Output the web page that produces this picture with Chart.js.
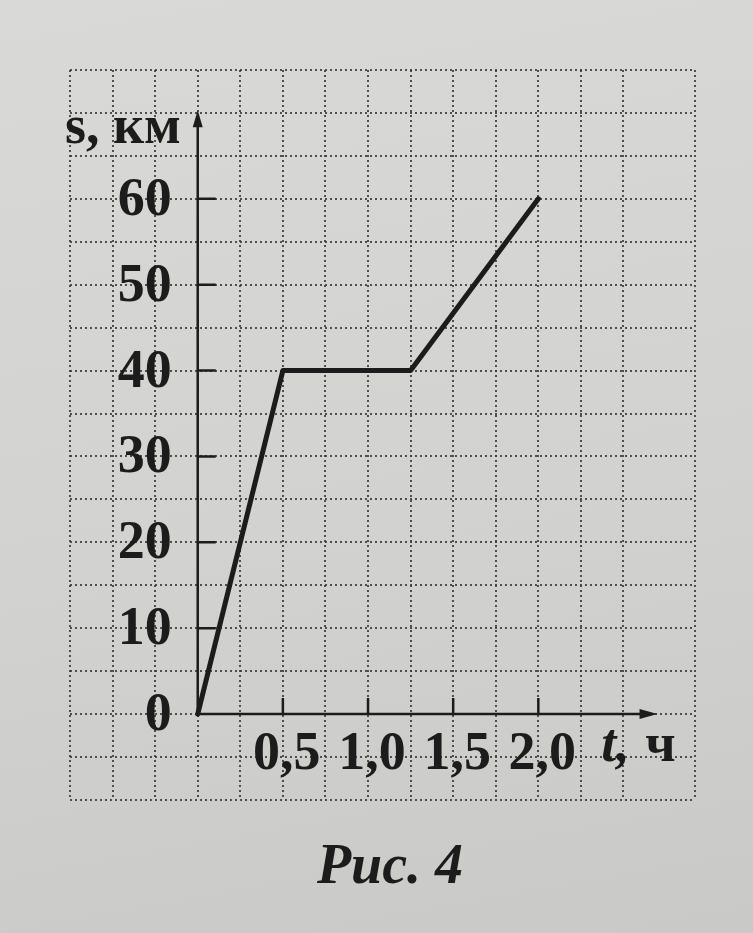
<!DOCTYPE html>
<html>
<head>
<meta charset="utf-8">
<title>Рис. 4</title>
<script src="https://cdn.jsdelivr.net/npm/chart.js@4.4.1/dist/chart.umd.min.js"></script>
<style>
  html, body {
    margin: 0;
    padding: 0;
    background: linear-gradient(170deg, #d9d9d7 0%, #d2d2d0 55%, #c9c9c7 100%);
  }
  #wrap {
    width: 753px;
    height: 933px;
  }
</style>
</head>
<body>
<div id="wrap">
  <canvas id="chart" width="753" height="933"></canvas>
</div>
<script>
// t, ч  and  s, км
const times = [0, 0.5, 1.25, 2.0];
const distances = [0, 40, 40, 60];

const xTickValues = [0.5, 1.0, 1.5, 2.0];
const xTickLabels = ["0,5", "1,0", "1,5", "2,0"];
const yTickValues = [0, 10, 20, 30, 40, 50, 60];
const yTickLabels = ["0", "10", "20", "30", "40", "50", "60"];

const xAxisTitle = "ч";
const yAxisTitle = "s, км";
const caption = "Рис. 4";

const ink = "#1c1c1c";
const serif = "'Liberation Serif', 'DejaVu Serif', serif";

const axesPlugin = {
  id: "axes",
  afterDatasetsDraw(chart) {
    const ctx = chart.ctx;
    const xs = chart.scales.x;
    const ys = chart.scales.y;
    const x0 = xs.getPixelForValue(0);
    const y0 = ys.getPixelForValue(0);

    ctx.save();
    ctx.strokeStyle = ink;
    ctx.fillStyle = ink;
    ctx.lineWidth = 2.5;

    // axes
    const yTop = ys.getPixelForValue(70.3);
    const xEnd = xs.getPixelForValue(2.7);
    ctx.beginPath();
    ctx.moveTo(x0, y0);
    ctx.lineTo(x0, yTop + 10);
    ctx.moveTo(x0, y0);
    ctx.lineTo(xEnd - 12, y0);
    ctx.stroke();

    // arrow heads
    ctx.beginPath();
    ctx.moveTo(x0, yTop);
    ctx.lineTo(x0 - 5, yTop + 17);
    ctx.lineTo(x0 + 5, yTop + 17);
    ctx.closePath();
    ctx.fill();
    ctx.beginPath();
    ctx.moveTo(xEnd, y0);
    ctx.lineTo(xEnd - 18, y0 - 5);
    ctx.lineTo(xEnd - 18, y0 + 5);
    ctx.closePath();
    ctx.fill();

    // tick marks
    ctx.lineWidth = 2.5;
    ctx.beginPath();
    yTickValues.forEach(v => {
      if (v === 0) return;
      const py = ys.getPixelForValue(v);
      ctx.moveTo(x0, py);
      ctx.lineTo(x0 + 18, py);
    });
    xTickValues.forEach(v => {
      const px = xs.getPixelForValue(v);
      ctx.moveTo(px, y0);
      ctx.lineTo(px, y0 - 16);
    });
    ctx.stroke();

    // tick labels
    ctx.font = "bold 54px " + serif;
    ctx.textAlign = "right";
    ctx.textBaseline = "middle";
    yTickValues.forEach((v, i) => {
      ctx.fillText(yTickLabels[i], x0 - 26, ys.getPixelForValue(v) + 2);
    });
    ctx.textAlign = "center";
    xTickValues.forEach((v, i) => {
      ctx.fillText(xTickLabels[i], xs.getPixelForValue(v) + 4, y0 + 41);
    });

    // axis titles
    ctx.textAlign = "left";
    ctx.textBaseline = "alphabetic";
    ctx.font = "italic bold 54px " + serif;
    const tx = xs.getPixelForValue(2.37);
    ctx.fillText("t,", tx, y0 + 47);
    ctx.font = "bold 54px " + serif;
    ctx.fillText(xAxisTitle, tx + 44, y0 + 47);

    ctx.fillText(yAxisTitle, xs.getPixelForValue(-0.78), ys.getPixelForValue(66.5));

    // caption
    ctx.textAlign = "center";
    ctx.font = "italic bold 56px " + serif;
    ctx.fillText(caption, 390, 883);
    ctx.restore();
  }
};

new Chart(document.getElementById("chart"), {
  type: "line",
  data: {
    datasets: [{
      data: times.map((t, i) => ({ x: t, y: distances[i] })),
      borderColor: ink,
      borderWidth: 5,
      pointRadius: 0,
      tension: 0,
      fill: false,
      borderCapStyle: "round",
      borderJoinStyle: "round"
    }]
  },
  options: {
    responsive: false,
    animation: false,
    layout: { padding: { left: 70, top: 70, right: 58, bottom: 133 } },
    plugins: { legend: { display: false }, tooltip: { enabled: false } },
    scales: {
      x: {
        type: "linear",
        min: -0.75,
        max: 2.92,
        ticks: { display: false, stepSize: 0.25 },
        grid: { color: "rgba(55,55,55,0.85)", lineWidth: 2, drawTicks: false },
        border: { display: false, dash: [2, 3] }
      },
      y: {
        type: "linear",
        min: -10,
        max: 75,
        ticks: { display: false, stepSize: 5 },
        grid: { color: "rgba(55,55,55,0.85)", lineWidth: 2, drawTicks: false },
        border: { display: false, dash: [2, 3] }
      }
    }
  },
  plugins: [axesPlugin]
});
</script>
</body>
</html>
